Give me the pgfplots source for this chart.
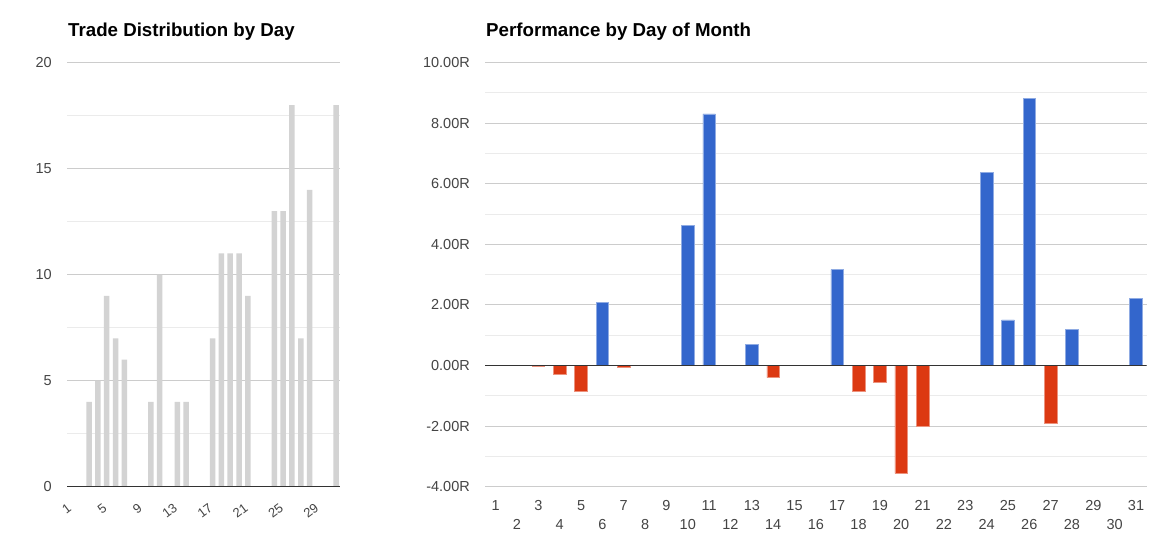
\documentclass[border=0pt]{standalone}
\usepackage{pgfplots}
\pgfplotsset{compat=1.18}
\usepackage{fontspec}
\setmainfont{Liberation Sans}
\definecolor{barblue}{HTML}{3366CC}
\definecolor{barred}{HTML}{DC3912}
\definecolor{bargray}{HTML}{D3D3D3}
\definecolor{txt}{HTML}{444444}
\definecolor{gridmaj}{HTML}{CCCCCC}
\definecolor{gridmin}{HTML}{EBEBEB}
\definecolor{basec}{HTML}{333333}

\pgfplotsset{
  gstyle/.style={
    scale only axis,
    height=424pt,
    xmin=0.5, xmax=31.5,
    axis line style={draw=none},
    major tick length=0pt, minor tick length=0pt,
    ymajorgrids, yminorgrids,
    major grid style={gridmaj, line width=1pt},
    minor grid style={gridmin, line width=1pt},
    /pgf/number format/assume math mode=true,
    tick label style={font=\fontsize{14.5}{17}\selectfont, text=txt},
    yticklabel style={anchor=east, inner sep=0pt, xshift=-15pt},
    every axis title/.style={at={(0,1)}, anchor=base west, xshift=1pt, yshift=26pt,
      font=\bfseries\fontsize{18.7}{22}\selectfont, inner sep=0pt, text=black},
  }
}

\begin{document}
\begin{tikzpicture}
\useasboundingbox (0,0) rectangle (1157pt,555pt);

% ---------------- Left chart ----------------
\begin{axis}[
  gstyle,
  at={(67pt,68.3pt)}, anchor=south west,
  width=273.5pt,
  ymin=0, ymax=20,
  ytick={0,5,10,15,20},
  minor ytick={2.5,7.5,12.5,17.5},
  xtick={1,5,...,29},
  xticklabel style={font=\fontsize{13}{15}\selectfont, inner sep=0pt,
    xshift=-4.5pt, yshift=-16pt, rotate=37, anchor=north east},
  title={Trade Distribution by Day},
]
\addplot[ybar, bar width=5.5pt, bar shift=0pt, fill=bargray, draw=none]
  coordinates {(3,4) (4,5) (5,9) (6,7) (7,6) (10,4) (11,10) (13,4) (14,4)
               (17,7) (18,11) (19,11) (20,11) (21,9) (24,13) (25,13) (26,18)
               (27,7) (28,14) (31,18)};
\addplot[basec, line width=2pt, no marks, forget plot] coordinates {(0.5,0) (31.5,0)};
\end{axis}

% ---------------- Right chart ----------------
\begin{axis}[
  gstyle,
  at={(485pt,68.3pt)}, anchor=south west,
  width=661.7pt,
  ymin=-4, ymax=10,
  ytick={-4,-2,...,10},
  minor ytick={-3,-1,...,9},
  yticklabel={\pgfmathprintnumber[fixed,fixed zerofill,precision=2]{\tick}R},
  xtick={1,3,...,31},
  xticklabel style={anchor=north, inner sep=0pt, yshift=-13.3pt},
  extra x ticks={2,4,...,30},
  extra x tick style={xticklabel style={yshift=-19.3pt}},
  title={Performance by Day of Month},
]
\addplot[ybar, bar width=12.6pt, bar shift=0pt, fill=barblue,
  draw=barblue!55!white, line width=0.6pt]
  coordinates {(6,2.09) (10,4.62) (11,8.31) (13,0.70) (17,3.17) (24,6.37)
               (25,1.51) (26,8.81) (28,1.20) (31,2.22)};
\addplot[ybar, bar width=12.6pt, bar shift=0pt, fill=barred,
  draw=barred!55!white, line width=0.6pt]
  coordinates {(3,-0.03) (4,-0.28) (5,-0.85) (7,-0.05) (14,-0.40) (18,-0.85)
               (19,-0.54) (20,-3.56) (21,-2.01) (27,-1.92)};
\addplot[basec, line width=1pt, no marks, forget plot] coordinates {(0.5,0) (31.5,0)};
\end{axis}
\end{tikzpicture}
\end{document}
